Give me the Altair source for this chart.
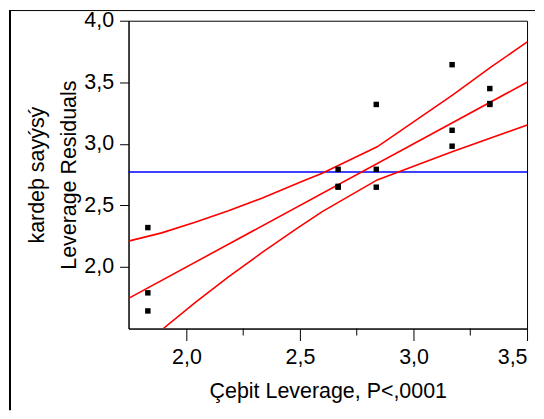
import altair as alt
import pandas as pd

# --- data ---
pts_x = [1.83, 1.83, 1.83, 2.668, 2.668, 2.668, 2.836, 2.836, 2.836, 3.17, 3.17, 3.17, 3.336, 3.336, 3.336]
pts_y = [2.32, 1.79, 1.643, 2.793, 2.648, 2.655, 3.32, 2.793, 2.648, 3.643, 3.11, 2.981, 3.449, 3.32, 3.327]

fit_x = [1.745, 3.5]
fit_y = [1.745, 3.5]

upper_x = [1.745, 1.891, 2.038, 2.185, 2.332, 2.508, 2.598, 2.840, 3.170, 3.339, 3.501]
upper_y = [2.21, 2.277, 2.363, 2.457, 2.559, 2.694, 2.761, 2.976, 3.393, 3.621, 3.828]

lower_x = [1.898, 2.038, 2.185, 2.332, 2.479, 2.598, 2.840, 3.170, 3.501]
lower_y = [1.50, 1.71, 1.919, 2.116, 2.303, 2.450, 2.707, 2.935, 3.153]

mean_y = [2.772]

x_ticks = [2.0, 2.5, 3.0, 3.5]
x_minor = [2.25, 2.75, 3.25]
y_ticks = [2.0, 2.5, 3.0, 3.5, 4.0]

x_title = "Çeþit Leverage, P<,0001"
y_title = ["kardeþ sayýsý", "Leverage Residuals"]

W, H = 400, 309
FONT = "Liberation Sans"
FS = 21.5

xs = alt.Scale(domain=[1.745, 3.5], nice=False, zero=False)
ys = alt.Scale(domain=[1.5, 4.0], nice=False, zero=False)

lbl = "replace(format(datum.value, '.1f'), '.', ',')"

pts = pd.DataFrame({"x": pts_x, "y": pts_y})
fit = pd.DataFrame({"x": fit_x, "y": fit_y})
up = pd.DataFrame({"x": upper_x, "y": upper_y})
lo = pd.DataFrame({"x": lower_x, "y": lower_y})
mn = pd.DataFrame({"y": mean_y})
mn_df = pd.DataFrame({"x": x_minor})
one = pd.DataFrame({"a": [0]})

xax = alt.Axis(values=x_ticks, labelExpr=lbl, title=x_title, tickSize=12, labelPadding=6,
               titlePadding=13, grid=False)
yax = alt.Axis(values=y_ticks, labelExpr=lbl, title=y_title, tickSize=9, labelPadding=6,
               titlePadding=3, grid=False, titleLineHeight=32)

points = alt.Chart(pts).mark_square(size=30, color="black", opacity=1).encode(
    x=alt.X("x:Q", scale=xs, axis=xax),
    y=alt.Y("y:Q", scale=ys, axis=yax),
)

def curve(df):
    return alt.Chart(df).mark_line(color="#ff0000", strokeWidth=1.6, clip=True).encode(
        x=alt.X("x:Q", scale=xs), y=alt.Y("y:Q", scale=ys))

mean_rule = alt.Chart(mn).mark_rule(color="#0000ff", strokeWidth=1.6).encode(
    y=alt.Y("y:Q", scale=ys))

minor = alt.Chart(mn_df).mark_rule(color="black", strokeWidth=1).encode(
    x=alt.X("x:Q", scale=xs), y=alt.value(H), y2=alt.value(H + 7))

left_border = alt.Chart(one).mark_rule(color="black", strokeWidth=2).encode(
    x=alt.value(-119), y=alt.value(-10.2), y2=alt.value(391))
top_border = alt.Chart(one).mark_rule(color="black", strokeWidth=1).encode(
    y=alt.value(-10.2), x=alt.value(-120), x2=alt.value(408))

chart = alt.layer(
    mean_rule, curve(up), curve(lo), curve(fit), points, minor, left_border, top_border
).properties(
    width=W, height=H, padding=0, background="white"
).configure_view(
    stroke="black", strokeWidth=1
).configure_axis(
    labelFont=FONT, titleFont=FONT, labelFontSize=FS, titleFontSize=FS,
    labelColor="black", titleColor="black", domainColor="black", tickColor="black",
    titleFontWeight="normal", domainWidth=1, tickWidth=1
)

chart.save("out.html", embed_options={"renderer": "svg", "actions": False})
